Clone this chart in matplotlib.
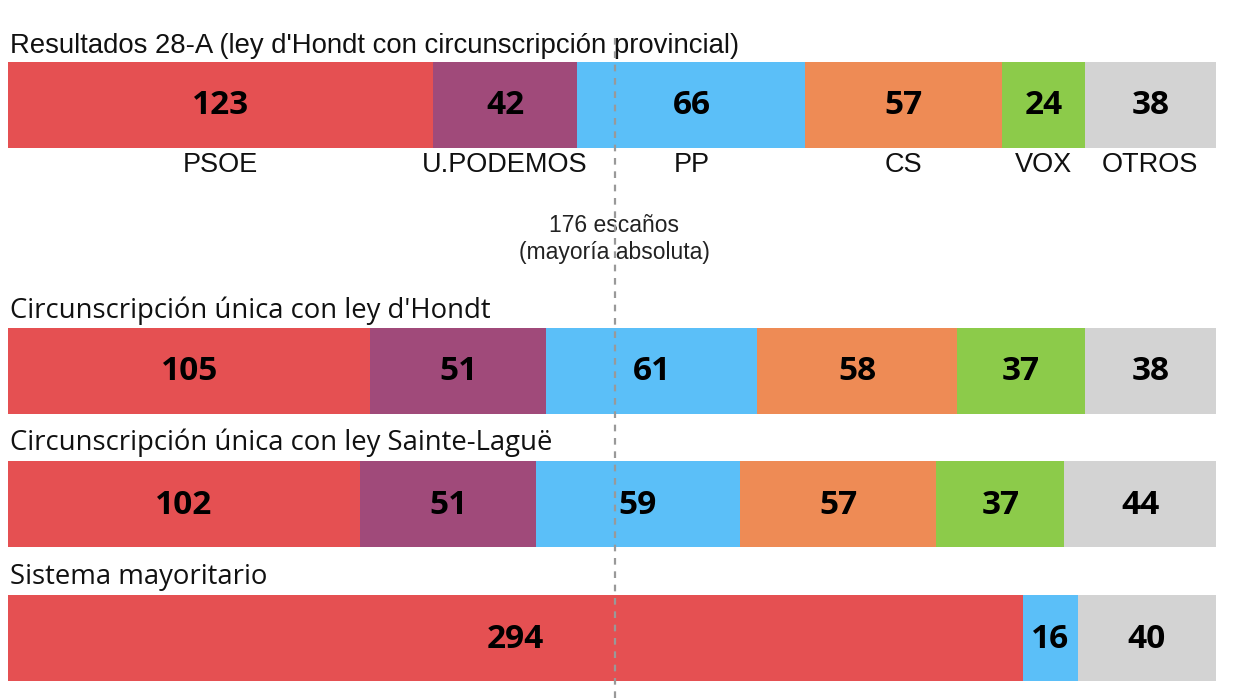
import matplotlib.pyplot as plt
import numpy as np

# datos de escaños (total 350)
parties = ['PSOE', 'U.PODEMOS', 'PP', 'CS', 'VOX', 'OTROS']
colors = ['#E55052', '#A04A7A', '#5BBFF8', '#EE8B55', '#8CCB4A', '#D3D3D3']

titles = ["Resultados 28-A (ley d'Hondt con circunscripción provincial)",
          "Circunscripción única con ley d'Hondt",
          "Circunscripción única con ley Sainte-Laguë",
          "Sistema mayoritario"]
seats_28a = [123, 42, 66, 57, 24, 38]
seats_dhondt = [105, 51, 61, 58, 37, 38]
seats_sl = [102, 51, 59, 57, 37, 44]
seats_may = [294, 0, 16, 0, 0, 40]
majority = 176
total = 350

W, H = 1248, 698
fig = plt.figure(figsize=(W / 100, H / 100), dpi=100)
ax = fig.add_axes([0, 0, 1, 1])
pxs = 1208 / total
ax.set_xlim(-8 / pxs, total + (W - 1216) / pxs)
ax.set_ylim(H, 0)
ax.axis('off')

rows = [seats_28a, seats_dhondt, seats_sl, seats_may]
ycen = [105, 371, 504, 638]
bh = 86
title_y = [46, 311, 443, 577]

for r, (vals, yc) in enumerate(zip(rows, ycen)):
    left = 0
    for i, v in enumerate(vals):
        if v == 0:
            continue
        ax.barh(yc, v, left=left, height=bh, color=colors[i], linewidth=0)
        ax.text(left + v / 2, yc + 1, str(v), ha='center', va='center',
                fontsize=24, fontweight='bold', family='Open Sans', color='#000000')
        if r == 0:
            ax.text(left + v / 2, 165, parties[i], ha='center', va='center',
                    fontsize=19.5, family='Liberation Sans', color='#111111')
        left += v
    fam = 'Liberation Sans' if r == 0 else 'Open Sans'
    ax.text(0.6, title_y[r], titles[r], ha='left', va='center',
            fontsize=19.8, family=fam, color='#111111')

ax.plot([majority, majority], [38, H], color='#999999', lw=1.6,
        ls=(0, (3, 3)), zorder=5)
ax.text(majority - 0.3, 239, '176 escaños\n(mayoría absoluta)', ha='center', va='center',
        fontsize=16.5, family='Liberation Sans', color='#222222', linespacing=1.25)

fig.savefig('out.png', dpi=100, facecolor='white')
